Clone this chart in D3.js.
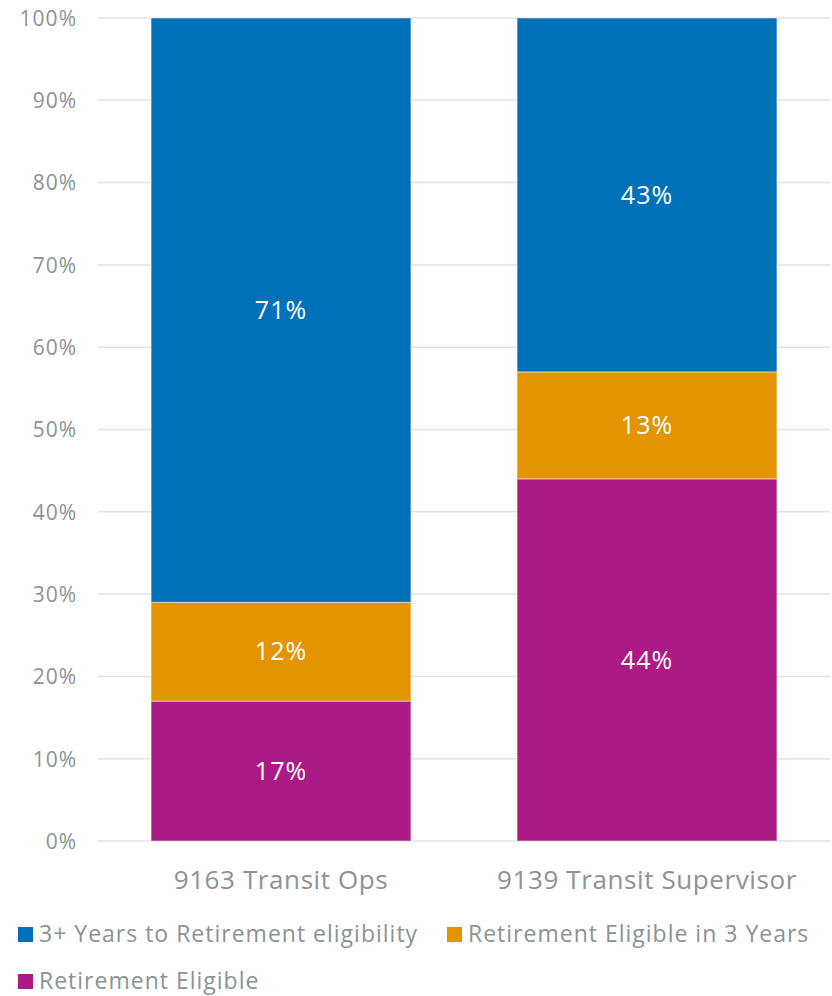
<!DOCTYPE html>
<html><head><meta charset="utf-8">
<script src="https://cdn.jsdelivr.net/npm/d3@7"></script>
<style>body{margin:0;background:#fff}svg{display:block}text{font-family:"Open Sans","Noto Sans",sans-serif}</style>
</head><body><svg width="832" height="996"></svg>
<script>
const categories = ["9163 Transit Ops", "9139 Transit Supervisor"];
const seriesNames = ["Retirement Eligible", "Retirement Eligible in 3 Years", "3+ Years to Retirement eligibility"];
const retirementEligible = [17, 44];
const eligibleIn3Years = [12, 13];
const threePlusYears = [71, 43];
const yTicks = [0, 10, 20, 30, 40, 50, 60, 70, 80, 90, 100];
const colors = ["#AB1A85", "#E39400", "#0070B8"];
const legendOrder = [2, 1, 0];

const svg = d3.select("svg");
const m = {left: 98, right: 830, top: 18, bottom: 841};
const x = d3.scaleBand().domain(categories).range([m.left, m.right]).paddingInner(0.29).paddingOuter(0.145);
const y = d3.scaleLinear().domain([0, 100]).range([m.bottom, m.top]);
const gray = "#8a9494";

// gridlines
svg.append("g").selectAll("line").data(yTicks).join("line")
  .attr("x1", m.left).attr("x2", m.right)
  .attr("y1", d => y(d)).attr("y2", d => y(d))
  .attr("stroke", "#e3e3e3").attr("stroke-width", 1.5);

// y axis
const yAxis = d3.axisLeft(y).tickValues(yTicks).tickFormat(d => d + "%").tickSize(0).tickPadding(0);
const gy = svg.append("g").attr("transform", `translate(77,0)`).call(yAxis);
gy.select(".domain").remove();
gy.selectAll("text").attr("fill", gray).style("font-size", "21px").style("letter-spacing", "1px").attr("dy", "0.35em");

// data stack
const rows = categories.map((c, i) => ({cat: c, s0: retirementEligible[i], s1: eligibleIn3Years[i], s2: threePlusYears[i]}));
const stack = d3.stack().keys(["s0", "s1", "s2"])(rows);

const layers = svg.append("g").selectAll("g").data(stack).join("g").attr("fill", (d, i) => colors[i]);
layers.selectAll("rect").data(d => d).join("rect")
  .attr("x", d => x(d.data.cat)).attr("width", x.bandwidth())
  .attr("y", d => y(d[1])).attr("height", d => y(d[0]) - y(d[1]))
  .attr("stroke", "#ffffff").attr("stroke-opacity", 0.5).attr("stroke-width", 1);

// labels
layers.selectAll("text").data(d => d).join("text")
  .attr("x", d => x(d.data.cat) + x.bandwidth() / 2)
  .attr("y", d => (y(d[0]) + y(d[1])) / 2)
  .attr("dy", "0.35em").attr("text-anchor", "middle")
  .attr("fill", "#fff").style("font-size", "25px").style("letter-spacing", "1px")
  .text(d => (d[1] - d[0]) + "%");

// x axis labels
svg.append("g").selectAll("text").data(categories).join("text")
  .attr("x", d => x(d) + x.bandwidth() / 2).attr("y", 880).attr("dy", "0.35em")
  .attr("text-anchor", "middle").attr("fill", gray).style("font-size", "26px").style("letter-spacing", "0.6px")
  .text(d => d);

// legend
const legendPos = [[18, 934], [447, 934], [18, 981]];
const lg = svg.append("g").selectAll("g").data(legendOrder).join("g")
  .attr("transform", (d, i) => `translate(${legendPos[i][0]},${legendPos[i][1]})`);
lg.append("rect").attr("x", 0).attr("y", -7).attr("width", 15).attr("height", 15).attr("fill", d => colors[d]);
lg.append("text").attr("x", 21).attr("y", 0).attr("dy", "0.35em").attr("fill", gray)
  .style("font-size", "23px").style("letter-spacing", "1px")
  .text(d => seriesNames[d]);
</script></body></html>
